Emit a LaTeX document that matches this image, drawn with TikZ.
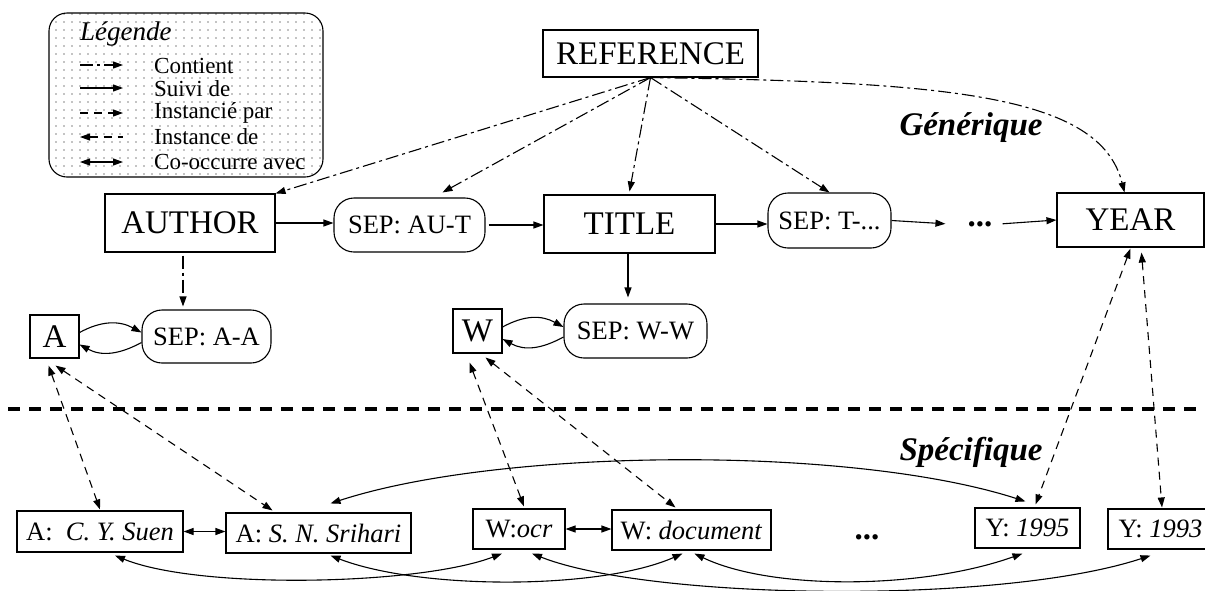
\documentclass[tikz,border=0pt]{standalone}
\usepackage{fontspec}
\setmainfont{Liberation Serif}
\usetikzlibrary{arrows.meta,patterns.meta,calc}
\newcommand\BigF{\fontsize{33}{38}\selectfont}
\newcommand\MedF{\fontsize{26.5}{30}\selectfont}
\newcommand\LegF{\fontsize{23}{26}\selectfont}
\begin{document}
\begin{tikzpicture}[x=1pt,y=-1pt,
  >={Triangle[length=10pt,width=7pt]},
  ln/.style={line width=1.1pt},
  bx/.style={draw, line width=1.1pt, inner sep=0pt, align=center},
  bigbox/.style={bx, font=\BigF},
  sepbox/.style={bx, rounded corners=20pt, font=\MedF},
  leaf/.style={bx, font=\MedF},
  contient/.style={ln, ->, dash pattern=on 13pt off 4pt on 3pt off 4pt},
  suivi/.style={ln, ->},
  instarr/.style={ln, <->, dash pattern=on 8pt off 6pt},
  cooc/.style={ln, <->},
  lbl/.style={font=\BigF\bfseries\itshape, inner sep=0pt},
  legtext/.style={font=\LegF, anchor=west, inner sep=0pt},
  sepline/.style={line width=4pt, dash pattern=on 12pt off 9pt},
  dotsnode/.style={font=\BigF\bfseries, inner sep=0pt, anchor=base}
]
\clip (0,0) rectangle (1205,590);

% legend
\node[draw, line width=1.1pt, rounded corners=18pt, minimum width=274pt, minimum height=164pt,
      pattern={Dots[distance=8pt,radius=0.7pt]}] (legend) at (186,95) {};
\node[anchor=west, inner sep=0pt, font=\fontsize{27}{30}\selectfont\itshape] (legtitle) at (80,34) {Légende};
\coordinate (l1a) at (80,65);  \coordinate (l1b) at (123,65);
\coordinate (l2a) at (80,88);  \coordinate (l2b) at (123,88);
\coordinate (l3a) at (80,113); \coordinate (l3b) at (123,113);
\coordinate (l4a) at (80,137); \coordinate (l4b) at (123,137);
\coordinate (l5a) at (80,162); \coordinate (l5b) at (123,162);
\draw[contient] (l1a) -- (l1b);
\draw[suivi] (l2a) -- (l2b);
\draw[ln, ->, dash pattern=on 8pt off 6pt] (l3a) -- (l3b);
\draw[ln, <-, dash pattern=on 8pt off 6pt] (l4a) -- (l4b);
\draw[cooc] (l5a) -- (l5b);
\node[legtext] (t1) at (154,66) {Contient};
\node[legtext] (t2) at (154,89) {Suivi de};
\node[legtext] (t3) at (154,113) {Instancié par};
\node[legtext] (t4) at (154,137) {Instance de};
\node[legtext] (t5) at (154,162) {Co-occurre avec};

% generic level
\node[bigbox, minimum width=215pt, minimum height=47pt] (ref) at (650.5,53.5) {REFERENCE};
\node[bigbox, minimum width=170pt, minimum height=58pt] (author) at (190,223) {AUTHOR};
\node[sepbox, minimum width=151pt, minimum height=54pt] (sepau) at (409.5,225) {SEP: AU-T};
\node[bigbox, minimum width=171pt, minimum height=58pt] (title) at (629.5,224) {TITLE};
\node[sepbox, minimum width=123pt, minimum height=55pt] (sept) at (829.5,220.5) {SEP: T-...};
\node[dotsnode] (dots1) at (980,226) {...};
\node[bigbox, minimum width=147pt, minimum height=54pt] (year) at (1130.5,220) {YEAR};

\node[bigbox, minimum width=49pt, minimum height=43pt] (a) at (54.5,336.5) {A};
\node[sepbox, minimum width=129pt, minimum height=53pt] (sepaa) at (206.5,336.5) {SEP: A-A};
\node[bigbox, minimum width=49pt, minimum height=44pt] (w) at (477.5,331) {W};
\node[sepbox, minimum width=143pt, minimum height=54pt] (sepww) at (635.5,331) {SEP: W-W};

\node[lbl] (gen) at (971,128) {Générique};

% separator
\coordinate (sl) at (8,409);
\coordinate (sr) at (1205,409);
\draw[sepline] (sl) -- (sr);

\node[lbl] (spec) at (971,452) {Spécifique};

% specific level
\node[leaf, minimum width=166pt, minimum height=41pt] (suen) at (100,531.5) {A:\ \ \textit{C. Y. Suen}};
\node[leaf, minimum width=185pt, minimum height=40pt] (srihari) at (318.5,533) {A: \textit{S. N. Srihari}};
\node[leaf, minimum width=92pt, minimum height=40pt] (ocr) at (519,529) {W:\textit{ocr}};
\node[leaf, minimum width=159pt, minimum height=40pt] (doc) at (691.5,530) {W: \textit{document}};
\node[dotsnode] (dots2) at (867,539) {...};
\node[leaf, minimum width=105pt, minimum height=40pt] (y95) at (1027.5,528) {Y: \textit{1995}};
\node[leaf, minimum width=105pt, minimum height=40pt] (y93) at (1160.5,529) {Y: \textit{1993}};

% contient
\draw[contient] (ref.south) -- (author.north east);
\draw[contient] (ref.south) -- ($(sepau.north)+(33,-5)$);
\draw[contient] (ref.south) -- ($(title.north)+(0,-3)$);
\draw[contient] (ref.south) -- (sept.north);
\draw[contient] (ref.south) .. controls (950,82) and (1100,95) .. ($(year.north)+(-6,0)$);
\draw[contient] ($(author.south)+(-7,3)$) -- ($(sepaa.north)+(-23.5,-3)$);

% suivi de
\draw[suivi] (author.east) -- (author.east -| sepau.west);
\draw[suivi] ($(sepau.east)+(3,0)$) -- (sepau.east -| title.west);
\draw[suivi] (title.east) -- (title.east -| sept.west);
\draw[suivi] (sept.east) -- ($(dots1.west)+(-22,0)$);
\draw[suivi] ($(dots1.east)+(10,0)$) -- (year.west);
\draw[suivi] ($(title.south)+(-1.5,0)$) -- ($(sepww.north)+(-7.5,-6)$);

\draw[suivi] ([yshift=4pt]a.east) .. controls +(22,-12) and +(-22,-12) .. ([yshift=4pt]sepaa.west);
\draw[suivi] ([yshift=-6pt]sepaa.west) .. controls +(-22,12) and +(22,12) .. ([yshift=-8pt]a.east);
\draw[suivi] ([yshift=4pt]w.east) .. controls +(22,-12) and +(-22,-12) .. ([yshift=4pt]sepww.west);
\draw[suivi] ([yshift=-6pt]sepww.west) .. controls +(-22,12) and +(22,12) .. ([yshift=-8pt]w.east);

% instances
\draw[instarr] ($(a.south)+(-6,7)$) -- ($(suen.north)+(0,-1)$);
\draw[instarr] ($(a.south)+(1,7)$) -- ($(srihari.north)+(-46,-2)$);
\draw[instarr] ($(w.south)+(-8,9)$) -- ($(ocr.north)+(5,-2)$);
\draw[instarr] ($(w.south)+(8,4)$) -- ($(doc.north)+(-16,-2)$);
\draw[instarr] ($(year.south)+(0,1)$) -- ($(y95.north)+(8,-3)$);
\draw[instarr] ($(year.south)+(11,5)$) -- ($(y93.north)+(1.5,-1)$);

% co-occurrence
\draw[cooc] (suen.east) -- (suen.east -| srihari.west);
\draw[cooc] (ocr.east) -- (ocr.east -| doc.west);
\draw[cooc] ($(srihari.north)+(12,-9)$) .. controls (500,448) and (850,445) .. ($(y95.north)+(-2,-6)$);
\draw[cooc] ($(suen.south)+(15,3)$) .. controls (200,590) and (420,585) .. ($(ocr.south)+(-17,4)$);
\draw[cooc] ($(srihari.south)+(12,2)$) .. controls (420,590) and (600,590) .. ($(doc.south)+(-9,3)$);
\draw[cooc] ($(ocr.south)+(13,4)$) .. controls (650,600) and (1000,605) .. ($(y93.south)+(-10,6)$);
\draw[cooc] ($(doc.south)+(3,3)$) .. controls (770,590) and (920,590) .. ($(y95.south)+(-5,5)$);
\end{tikzpicture}
\end{document}
